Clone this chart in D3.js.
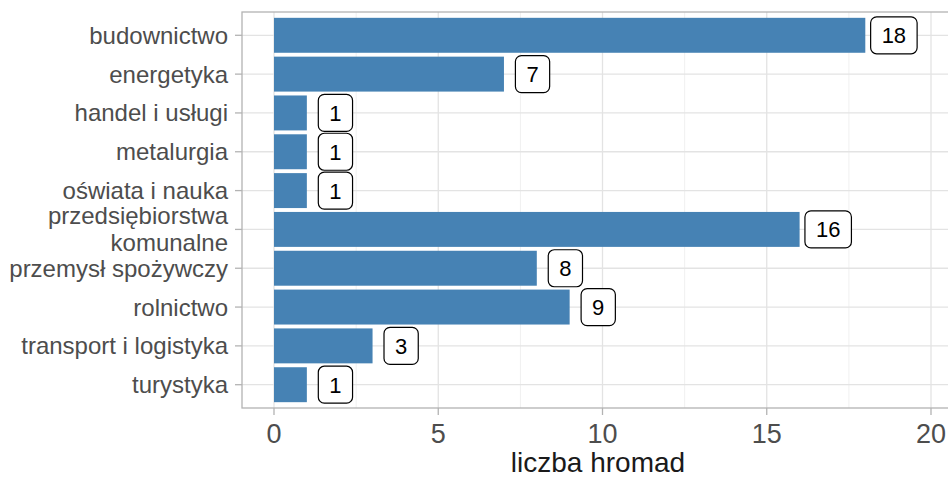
<!DOCTYPE html>
<html><head><meta charset="utf-8">
<script src="https://cdn.jsdelivr.net/npm/d3@7"></script>
<style>body{margin:0;background:#fff}svg{display:block}text{font-family:"Liberation Sans",Arial,sans-serif}</style>
</head><body><svg id="c" width="948" height="479"></svg>
<script>
const categories = ["budownictwo","energetyka","handel i usługi","metalurgia","oświata i nauka","przedsiębiorstwa\nkomunalne","przemysł spożywczy","rolnictwo","transport i logistyka","turystyka"];
const values = [18,7,1,1,1,16,8,9,3,1];
const xTicks = [0,5,10,15,20];
const xMinor = [2.5,7.5,12.5,17.5];
const xTitle = "liczba hromad";

const svg = d3.select("#c");
const L = 242, T = 12, R = 960, B = 408;
const x = d3.scaleLinear().domain([0,20]).range([274,931]);
const step = (B-T)/(categories.length-1+1.2);
const y = d3.scalePoint().domain(categories).range([T+step*0.6, B-step*0.6]);
const bh = step*0.9;

const g = svg.append("g");
g.selectAll("line.minor").data(xMinor).join("line")
  .attr("x1",d=>x(d)).attr("x2",d=>x(d)).attr("y1",T).attr("y2",B)
  .attr("stroke","#f0f0f0").attr("stroke-width",1);
g.selectAll("line.majx").data(xTicks).join("line")
  .attr("x1",d=>x(d)).attr("x2",d=>x(d)).attr("y1",T).attr("y2",B)
  .attr("stroke","#e3e3e3").attr("stroke-width",1.3);
g.selectAll("line.majy").data(categories).join("line")
  .attr("x1",L).attr("x2",R).attr("y1",d=>y(d)).attr("y2",d=>y(d))
  .attr("stroke","#e3e3e3").attr("stroke-width",1.3);

g.selectAll("rect.bar").data(categories).join("rect")
  .attr("x",x(0)).attr("y",d=>y(d)-bh/2)
  .attr("width",(d,i)=>x(values[i])-x(0)).attr("height",bh)
  .attr("fill","#4682b4");

svg.append("rect").attr("x",L).attr("y",T).attr("width",R-L).attr("height",B-T)
  .attr("fill","none").attr("stroke","#b3b3b3").attr("stroke-width",1.3);

const lab = svg.append("g");
categories.forEach((c,i)=>{
  const cx = x(values[i]+0.87), cy = y(c);
  const t = lab.append("text").attr("x",cx).attr("y",cy+8).attr("text-anchor","middle")
    .attr("font-size",22).attr("fill","#000").text(values[i]);
  const w = t.node().getComputedTextLength();
  lab.insert("rect","text").attr("x",cx-w/2-11).attr("y",cy-18.5).attr("width",w+22).attr("height",37)
    .attr("rx",6).attr("fill","#fff").attr("stroke","#000").attr("stroke-width",1.2);
});

categories.forEach(c=>{
  const cy = y(c);
  svg.append("line").attr("x1",235).attr("x2",L).attr("y1",cy).attr("y2",cy).attr("stroke","#b3b3b3").attr("stroke-width",1.3);
  const lines = c.split("\n");
  const t = svg.append("text").attr("x",228).attr("text-anchor","end").attr("font-size",24).attr("fill","#4d4d4d");
  lines.forEach((ln,j)=>{
    t.append("tspan").attr("x",228).attr("y",cy+8.5+(j-(lines.length-1)/2)*27).text(ln);
  });
});

xTicks.forEach(v=>{
  svg.append("line").attr("x1",x(v)).attr("x2",x(v)).attr("y1",B).attr("y2",B+7).attr("stroke","#b3b3b3").attr("stroke-width",1.3);
  svg.append("text").attr("x",x(v)).attr("y",443).attr("text-anchor","middle").attr("font-size",27).attr("fill","#4d4d4d").text(d3.format("d")(v));
});
svg.append("text").attr("x",598).attr("y",472).attr("text-anchor","middle").attr("font-size",28).attr("fill","#1a1a1a").text(xTitle);
</script></body></html>
